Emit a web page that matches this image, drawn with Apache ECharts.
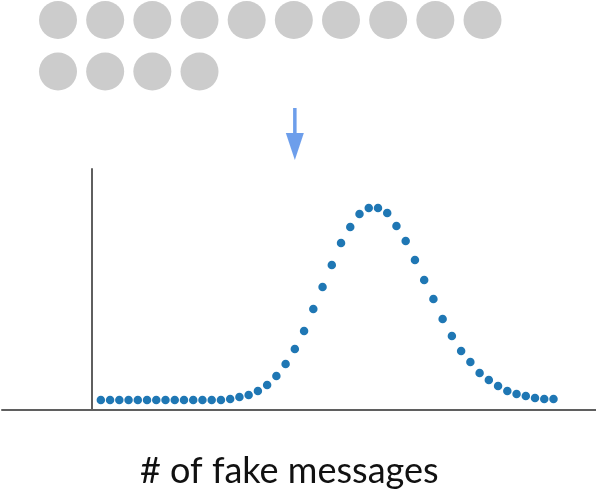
<!DOCTYPE html>
<html>
<head>
<meta charset="utf-8">
<style>
    html, body { margin: 0; padding: 0; background: #fff; }
    #chart { width: 596px; height: 493px; }
</style>
<script src="https://cdn.jsdelivr.net/npm/echarts@6/dist/echarts.min.js"></script>
</head>
<body>
<div id="chart"></div>
<script>
// observed messages, shown as grey tokens (10 per row)
const messageCount = 14
const tokensPerRow = 10

// distribution of # of fake messages
const counts = [
    1, 2, 3, 4, 5, 6, 7, 8, 9, 10,
    11, 12, 13, 14, 15, 16, 17, 18, 19, 20,
    21, 22, 23, 24, 25, 26, 27, 28, 29, 30,
    31, 32, 33, 34, 35, 36, 37, 38, 39, 40,
    41, 42, 43, 44, 45, 46, 47, 48, 49, 50
]
const probs = [
    0.010, 0.010, 0.010, 0.010, 0.010, 0.010, 0.010, 0.010, 0.010, 0.010,
    0.010, 0.010, 0.010, 0.010, 0.011, 0.013, 0.015, 0.019, 0.025, 0.034,
    0.046, 0.061, 0.079, 0.101, 0.123, 0.145, 0.167, 0.183, 0.196, 0.202,
    0.202, 0.197, 0.184, 0.169, 0.150, 0.130, 0.111, 0.091, 0.074, 0.059,
    0.048, 0.037, 0.030, 0.024, 0.019, 0.016, 0.014, 0.012, 0.011, 0.011
]
const observed = 22

const tokens = []
for (let i = 0; i < messageCount; i++) {
    tokens.push([i % tokensPerRow, Math.floor(i / tokensPerRow)])
}

const chart = echarts.init(document.getElementById('chart'))

const axisColor = '#5f5f5f'
const arrowColor = '#6d9eeb'

const option = {
    animation: false,
    title: {
        text: '# of fake messages',
        left: 140,
        top: 453,
        padding: 0,
        textStyle: {
            fontFamily: 'Lato',
            fontWeight: 'normal',
            fontSize: 36,
            color: '#111'
        }
    },
    grid: [
        { left: 2, right: 0, top: 169, bottom: 83 },
        { left: 58, right: 113.5, top: 20, bottom: 421.5 }
    ],
    xAxis: [
        {
            type: 'value',
            gridIndex: 0,
            min: -9.7,
            max: 54.6,
            axisLine: { show: true, onZero: true, lineStyle: { color: axisColor, width: 2 } },
            axisTick: { show: false },
            axisLabel: { show: false },
            splitLine: { show: false }
        },
        {
            type: 'value',
            gridIndex: 1,
            min: 0,
            max: tokensPerRow - 1,
            show: false
        }
    ],
    yAxis: [
        {
            type: 'value',
            gridIndex: 0,
            min: 0,
            max: 0.241,
            axisLine: { show: true, onZero: true, lineStyle: { color: axisColor, width: 2 } },
            axisTick: { show: false },
            axisLabel: { show: false },
            splitLine: { show: false }
        },
        {
            type: 'value',
            gridIndex: 1,
            min: 0,
            max: 1,
            inverse: true,
            show: false
        }
    ],
    series: [
        {
            type: 'scatter',
            xAxisIndex: 0,
            yAxisIndex: 0,
            symbolSize: 8.5,
            itemStyle: { color: '#1f77b4', opacity: 1 },
            data: counts.map((c, i) => [c, probs[i]])
        },
        {
            type: 'scatter',
            xAxisIndex: 1,
            yAxisIndex: 1,
            symbolSize: 38,
            itemStyle: { color: '#cccccc', opacity: 1 },
            data: tokens
        }
    ]
}

chart.setOption(option)

// arrow pointing at the observed count
const ax = chart.convertToPixel({ gridIndex: 0 }, [observed, 0])[0]
chart.setOption({
    graphic: [
        {
            type: 'line',
            shape: { x1: ax, y1: 108, x2: ax, y2: 140 },
            style: { stroke: arrowColor, lineWidth: 3.5 }
        },
        {
            type: 'polygon',
            shape: { points: [[ax - 9, 133], [ax + 9, 133], [ax, 160]] },
            style: { fill: arrowColor }
        }
    ]
})
</script>
</body>
</html>
